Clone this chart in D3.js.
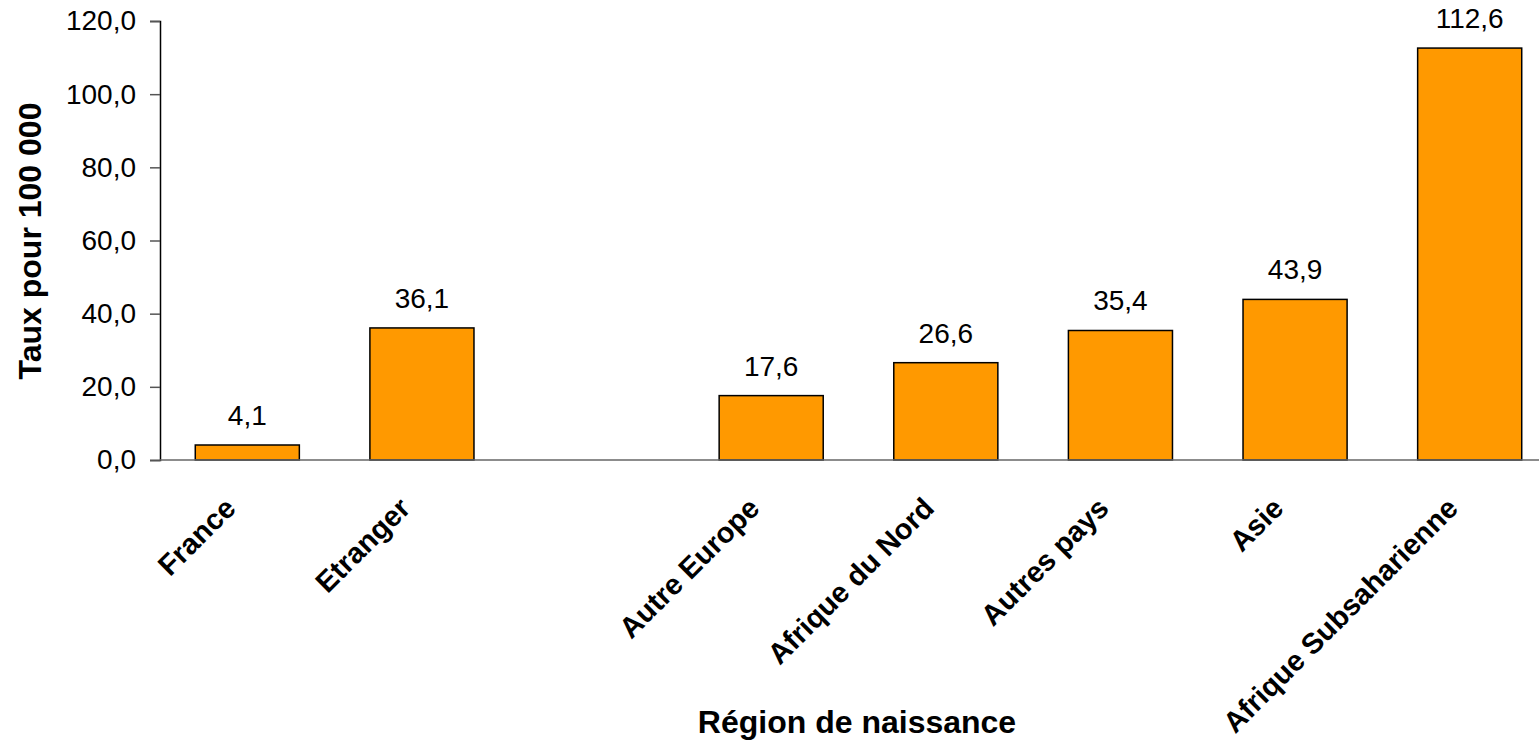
<!DOCTYPE html>
<html><head><meta charset="utf-8">
<script src="https://cdn.jsdelivr.net/npm/d3@7"></script>
<style>body{margin:0;background:#fff}svg{display:block}text{font-family:"Liberation Sans",Arial,sans-serif;fill:#000}</style>
</head><body>
<script>
const categories = ["France","Etranger","","Autre Europe","Afrique du Nord","Autres pays","Asie","Afrique Subsaharienne"];
const values = [4.1, 36.1, null, 17.6, 26.6, 35.4, 43.9, 112.6];
const yTicks = [0,20,40,60,80,100,120];
const yTitle = "Taux pour 100 000";
const xTitle = "Région de naissance";

const W = 1539, H = 741;
const svg = d3.select("body").append("svg").attr("width", W).attr("height", H);
const x = d3.scaleBand().domain(d3.range(categories.length)).range([160, 1557]).padding(0);
const y = d3.scaleLinear().domain([0,120]).range([460, 21]);
const fmt = v => d3.format(".1f")(v).replace(".", ",");
const barW = x.bandwidth() * 0.596;

// bars
const data = categories.map((c,i)=>({c, v: values[i], i})).filter(d => d.v != null);
svg.append("g").selectAll("rect").data(data).join("rect")
  .attr("x", d => x(d.i) + x.bandwidth()/2 - barW/2)
  .attr("y", d => y(d.v))
  .attr("width", barW)
  .attr("height", d => y(0) - y(d.v))
  .attr("fill", "#FF9900").attr("stroke", "#000").attr("stroke-width", 1.5);

// value labels
svg.append("g").selectAll("text").data(data).join("text")
  .attr("x", d => x(d.i) + x.bandwidth()/2)
  .attr("y", d => y(d.v) - 20)
  .attr("text-anchor", "middle").style("font-size", "28px")
  .text(d => fmt(d.v));

// y axis
const ya = svg.append("g").attr("transform", "translate(160,0)")
  .call(d3.axisLeft(y).tickValues(yTicks).tickSize(10).tickPadding(14).tickFormat(fmt));
ya.select(".domain").attr("stroke", "#000").attr("stroke-width", 1.5);
ya.selectAll(".tick line").attr("stroke", "#555").attr("stroke-width", 1.5);
ya.selectAll(".tick text").style("font-size", "28px").style("font-family", "Liberation Sans, Arial, sans-serif").attr("fill", "#000");

// x axis line
svg.append("line").attr("x1", 160).attr("x2", W).attr("y1", y(0)).attr("y2", y(0))
  .attr("stroke", "#666").attr("stroke-width", 1.5);

// category labels
svg.append("g").selectAll("text").data(categories.map((c,i)=>({c,i})).filter(d=>d.c)).join("text")
  .attr("transform", d => `translate(${x(d.i) + x.bandwidth()/2 - 10},${510}) rotate(-45)`)
  .attr("text-anchor", "end")
  .style("font-size", "29px").style("font-weight", "bold")
  .text(d => d.c);

// titles
svg.append("text").attr("x", 857).attr("y", 733).attr("text-anchor", "middle")
  .style("font-size", "32px").style("font-weight", "bold").text(xTitle);
svg.append("text").attr("transform", "translate(41,241) rotate(-90)").attr("text-anchor", "middle")
  .style("font-size", "32px").style("font-weight", "bold").text(yTitle);
</script>
</body></html>
